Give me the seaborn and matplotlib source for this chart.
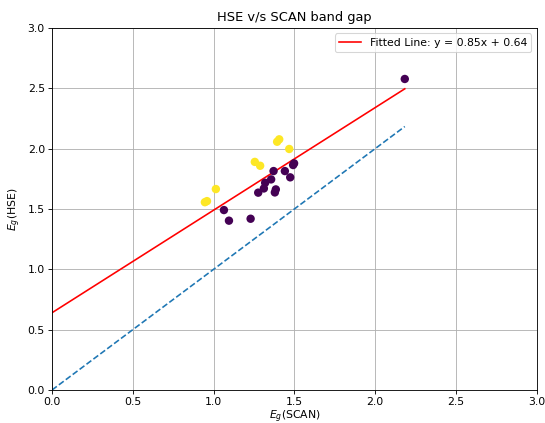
import numpy as np
import pandas as pd
import matplotlib
matplotlib.use("Agg")
import matplotlib.pyplot as plt
import seaborn as sns

# band gaps (SCAN on x, HSE on y)
scan_gap = [0.946, 0.959, 1.014, 1.255, 1.288, 1.393, 1.406, 1.468,
            1.064, 1.095, 1.229, 1.276, 1.311, 1.319, 1.356, 1.371,
            1.379, 1.385, 1.441, 1.474, 1.492, 1.498, 2.183]
hse_gap = [1.556, 1.565, 1.665, 1.890, 1.858, 2.057, 2.077, 1.997,
           1.491, 1.403, 1.419, 1.635, 1.670, 1.717, 1.745, 1.814,
           1.637, 1.662, 1.814, 1.762, 1.864, 1.878, 2.577]
group = [1] * 8 + [0] * 15

slope = 0.85
intercept = 0.64

df = pd.DataFrame({"scan": scan_gap, "hse": hse_gap, "group": group})

plt.rcParams["font.family"] = ["DejaVu Sans"]

DPI = 78
fig, ax = plt.subplots(figsize=(545 / DPI, 423 / DPI), dpi=DPI)
fig.subplots_adjust(left=0.0954, right=0.985, top=0.934, bottom=0.078)

ax.grid(True, color="#b0b0b0", linewidth=0.8)
ax.set_axisbelow(True)

xs = np.array([0, max(scan_gap)])
ax.plot(xs, xs, "--", color="#1f77b4", linewidth=1.5)
ax.plot(xs, slope * xs + intercept, color="red", linewidth=1.5,
        label=f"Fitted Line: y = {slope:.2f}x + {intercept:.2f}")

sns.scatterplot(data=df, x="scan", y="hse", hue="group",
                palette={0: "#440154", 1: "#fde725"},
                s=60, linewidth=0, legend=False, ax=ax, zorder=3)

ax.set_xlim(0, 3)
ax.set_ylim(0, 3)
ax.set_xticks(np.arange(0, 3.01, 0.5))
ax.set_yticks(np.arange(0, 3.01, 0.5))
ax.tick_params(labelsize=10, length=3.5, pad=3)
ax.set_xlabel("$E_g$(SCAN)", fontsize=10, labelpad=1)
ax.set_ylabel("$E_g$(HSE)", fontsize=10)
ax.set_title("HSE v/s SCAN band gap", fontsize=12)
ax.legend(loc="upper right", fontsize=10)

fig.savefig("out.png", dpi=DPI)
